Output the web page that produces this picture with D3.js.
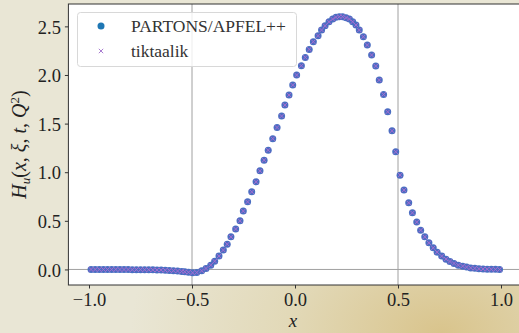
<html>
<head>
<script src="https://d3js.org/d3.v7.min.js"></script>
<style>
    body { margin: 0; background: #e7e3cf; }
    svg { display: block; }
    .tick text { font-family: 'Liberation Serif', serif; font-size: 18.5px; fill: #222; }
</style>
</head>
<body>
<div id="chart"></div>
<script>

// GPD H_u values
var xs = [-0.99,-0.97,-0.95,-0.93,-0.91,-0.89,-0.87,-0.85,-0.83,-0.81,-0.79,-0.77,-0.75,-0.73,-0.71,
    -0.69,-0.67,-0.65,-0.63,-0.61,-0.59,-0.57,-0.55,-0.535,-0.517,
    -0.497,-0.477,-0.453,-0.432,-0.409,-0.390,-0.369,-0.348,-0.329,-0.311,-0.288,-0.267,-0.251,-0.230,
    -0.210,-0.189,-0.170,-0.150,-0.130,-0.108,-0.087,-0.065,-0.049,-0.029,-0.011,
    0.008,0.031,0.050,0.069,0.089,0.112,0.129,0.146,0.165,0.183,0.199,0.215,0.231,0.248,0.264,
    0.280,0.296,0.312,0.332,0.351,0.372,0.392,0.409,0.430,0.450,0.471,0.489,
    0.510,0.529,0.552,0.570,0.591,0.610,0.630,0.650,0.671,0.690,0.712,0.733,0.752,0.772,0.793,
    0.814,0.833,0.853,0.873,0.893,0.913,0.933,0.953,0.973,0.993];
var partons = [0,0,0,0,0,0,0,-0.001,-0.001,-0.001,-0.002,-0.002,-0.002,-0.003,-0.003,
    -0.004,-0.005,-0.006,-0.008,-0.010,-0.013,-0.016,-0.020,-0.024,-0.029,
    -0.035,-0.031,-0.014,0.010,0.044,0.085,0.137,0.199,0.260,0.335,0.415,0.500,0.600,0.695,
    0.798,0.901,1.014,1.124,1.227,1.345,1.460,1.577,1.690,1.793,1.896,
    1.999,2.095,2.181,2.263,2.342,2.404,2.462,2.506,2.547,2.575,2.593,2.599,2.599,2.589,2.575,
    2.547,2.513,2.462,2.393,2.308,2.205,2.092,1.948,1.800,1.621,1.426,1.210,
    0.970,0.816,0.685,0.582,0.487,0.404,0.335,0.274,0.222,0.178,0.137,0.106,0.082,0.062,0.044,
    0.034,0.024,0.016,0.011,0.007,0.005,0.003,0.002,0.001,0.000];
var tiktaalik = partons.slice();
var xTicks = [-1.0, -0.5, 0.0, 0.5, 1.0];
var yTicks = [0.0, 0.5, 1.0, 1.5, 2.0, 2.5];
var vLines = [-0.5, 0.5];
var seriesNames = ["PARTONS/APFEL++", "tiktaalik"];

var W = 519, H = 333;
var svg = d3.select("#chart").append("svg")
    .attr("width", W).attr("height", H);

// parchment-ish background
var defs = svg.append("defs");
var rg = defs.append("radialGradient").attr("id", "bg")
    .attr("cx", "0.85").attr("cy", "1.0").attr("r", "0.6");
rg.append("stop").attr("offset", "0").attr("stop-color", "#d9c48c");
rg.append("stop").attr("offset", "0.5").attr("stop-color", "#e2d9b8");
rg.append("stop").attr("offset", "1").attr("stop-color", "#e9e6d5");
svg.append("rect").attr("width", W).attr("height", H).style("fill", "url(#bg)");

var pLeft = 68.4, pRight = 521.6, pTop = 4, pBottom = 285;

var xScale = d3.scaleLinear().domain([-1.1, 1.1]).range([pLeft, pRight]);
var yScale = d3.scaleLinear().domain([-0.16, 2.73]).range([pBottom, pTop]);

defs.append("clipPath").attr("id", "clip")
    .append("rect").attr("x", pLeft).attr("y", pTop)
    .attr("width", pRight - pLeft).attr("height", pBottom - pTop);

//axes area
svg.append("rect")
    .attr("x", pLeft).attr("y", pTop)
    .attr("width", pRight - pLeft).attr("height", pBottom - pTop)
    .style("fill", "white");

var plot = svg.append("g").attr("clip-path", "url(#clip)");

//reference lines
plot.selectAll(".vline").data(vLines).enter().append("line")
    .attr("x1", function(d) { return xScale(d); })
    .attr("x2", function(d) { return xScale(d); })
    .attr("y1", pTop).attr("y2", pBottom)
    .style("stroke", "#a0a0a0").style("stroke-width", "1px");

plot.append("line")
    .attr("x1", pLeft).attr("x2", pRight)
    .attr("y1", yScale(0)).attr("y2", yScale(0))
    .style("stroke", "#a0a0a0").style("stroke-width", "1px");

//PARTONS points
plot.selectAll(".dot").data(xs).enter().append("circle")
    .attr("cx", function(d) { return xScale(d); })
    .attr("cy", function(d, i) { return yScale(partons[i]); })
    .attr("r", 3.5)
    .style("fill", "#4a6ec2");

//tiktaalik crosses
var cs = 2.2;
plot.selectAll(".cross").data(xs).enter().append("path")
    .attr("transform", function(d, i) { return "translate(" + xScale(d) + "," + yScale(tiktaalik[i]) + ")"; })
    .attr("d", "M" + (-cs) + "," + (-cs) + "L" + cs + "," + cs + "M" + (-cs) + "," + cs + "L" + cs + "," + (-cs))
    .style("stroke", "#a86bd0").style("stroke-width", "1px").style("fill", "none");

//spines
svg.append("rect")
    .attr("x", pLeft).attr("y", pTop)
    .attr("width", pRight - pLeft).attr("height", pBottom - pTop)
    .style("fill", "none").style("stroke", "#333").style("stroke-width", "1px");

var fmt = function(d) { return d3.format(".1f")(d); };

var xAxis = svg.append("g")
    .attr("transform", "translate(0," + pBottom + ")")
    .call(d3.axisBottom(xScale).tickValues(xTicks).tickSize(3.5).tickPadding(4).tickFormat(fmt));
xAxis.select(".domain").remove();
xAxis.selectAll(".tick line").style("stroke", "#333");

var yAxis = svg.append("g")
    .attr("transform", "translate(" + pLeft + ",0)")
    .call(d3.axisLeft(yScale).tickValues(yTicks).tickSize(3.5).tickPadding(4).tickFormat(fmt));
yAxis.select(".domain").remove();
yAxis.selectAll(".tick line").style("stroke", "#333");
yAxis.selectAll(".tick text").attr("dy", "0.36em");

//axis labels
svg.append("text")
    .attr("x", (pLeft + pRight) / 2 - 2)
    .attr("y", 327)
    .attr("text-anchor", "middle")
    .style("font-family", "'Liberation Serif', serif")
    .style("font-style", "italic")
    .style("font-size", "19px")
    .style("fill", "#222")
    .text("x");

var yl = svg.append("text")
    .attr("transform", "translate(26," + ((pTop + pBottom) / 2) + ") rotate(-90)")
    .attr("text-anchor", "middle")
    .style("font-family", "'Liberation Serif', serif")
    .style("font-size", "20px")
    .style("fill", "#222");
yl.append("tspan").style("font-style", "italic").text("H");
yl.append("tspan").style("font-style", "italic").style("font-size", "13px").attr("dy", 4).text("u");
yl.append("tspan").attr("dy", -4).text("(");
yl.append("tspan").style("font-style", "italic").text("x");
yl.append("tspan").text(", ");
yl.append("tspan").style("font-style", "italic").text("ξ");
yl.append("tspan").text(", ");
yl.append("tspan").style("font-style", "italic").text("t");
yl.append("tspan").text(", ");
yl.append("tspan").style("font-style", "italic").text("Q");
yl.append("tspan").style("font-size", "13px").attr("dy", -7).text("2");
yl.append("tspan").attr("dy", 7).text(")");

//legend
var lg = svg.append("g");
lg.append("rect")
    .attr("x", 77.5).attr("y", 12.5)
    .attr("width", 219).attr("height", 54)
    .attr("rx", 3)
    .style("fill", "white").style("fill-opacity", 0.8)
    .style("stroke", "#d8d8d8").style("stroke-width", "1px");

lg.append("circle")
    .attr("cx", 101).attr("cy", 26).attr("r", 3.5)
    .style("fill", "#1f77b4");
lg.append("path")
    .attr("transform", "translate(101,51)")
    .attr("d", "M" + (-cs) + "," + (-cs) + "L" + cs + "," + cs + "M" + (-cs) + "," + cs + "L" + cs + "," + (-cs))
    .style("stroke", "#a87cd0").style("stroke-width", "1px");

lg.selectAll(".ltext").data(seriesNames).enter().append("text")
    .attr("x", 131)
    .attr("y", function(d, i) { return 32 + i * 25; })
    .style("font-family", "'Liberation Serif', serif")
    .style("font-size", "17.5px")
    .style("fill", "#333")
    .text(function(d) { return d; });

</script>
</body>
</html>
